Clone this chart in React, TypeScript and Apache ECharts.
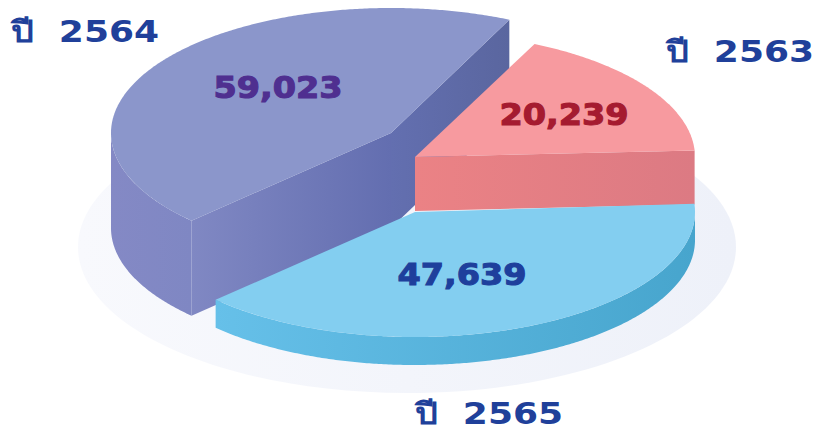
import React, { useEffect, useRef } from "react";
import * as echarts from "echarts";

const years = ["ปี  2564", "ปี  2563", "ปี  2565"];
const values = [59023, 20239, 47639];

const WIDTH = 813;
const HEIGHT = 431;
const RX = 280;
const RY = 125;
const FONT = '"DejaVu Sans", "Noto Sans", sans-serif';

// layout of each exploded wedge; angles in degrees on the ellipse, counter-clockwise from the right
const slices = [
  {
    cx: 391, cy: 133, depth: 95, startAngle: 65, sweepScale: 0.953,
    top: "#8b96cb", outer: ["#8489c5", "#7f87c3"], cutStart: ["#636fb0", "#5a669f"], cutEnd: ["#8088c3", "#636eb0"],
    valueAt: [278, 87], valueColor: "#4f2f90", yearAt: [11, 32], yearAnchor: "left",
  },
  {
    cx: 415, cy: 157, depth: 54, startAngle: 3, sweepScale: 1.075,
    top: "#f79a9f", outer: ["#e58084", "#e58084"], cutStart: ["#eb8285", "#dc7a83"], cutEnd: ["#eb8285", "#dc7a83"],
    valueAt: [564, 114], valueColor: "#a51b30", yearAt: [666, 52], yearAnchor: "left",
  },
  {
    cx: 415, cy: 212, depth: 28, startAngle: 224.6, sweepScale: 1.03,
    top: "#83cef0", outer: ["#66c0e9", "#47a5cd"], cutStart: ["#66c0e9", "#47a5cd"], cutEnd: ["#66c0e9", "#47a5cd"],
    valueAt: [462, 274], valueColor: "#1e3f9c", yearAt: [415, 414], yearAnchor: "left",
  },
];

const total = values.reduce((a, b) => a + b, 0);
const rad = (d: number) => (d * Math.PI) / 180;
const grad = (c: string[]) =>
  new echarts.graphic.LinearGradient(0, 0, 1, 0, [
    { offset: 0, color: c[0] },
    { offset: 1, color: c[1] },
  ]);

function pt(cx: number, cy: number, a: number, dy = 0): number[] {
  return [cx + RX * Math.cos(rad(a)), cy - RY * Math.sin(rad(a)) + dy];
}

function arc(cx: number, cy: number, a0: number, a1: number, dy = 0): number[][] {
  const pts: number[][] = [];
  const n = Math.max(2, Math.ceil(Math.abs(a1 - a0) * 2));
  for (let i = 0; i <= n; i++) pts.push(pt(cx, cy, a0 + ((a1 - a0) * i) / n, dy));
  return pts;
}

function renderItem(params: any, api: any) {
  const i = params.dataIndex;
  const s = slices[i];
  const value = api.value(0);
  const a0 = s.startAngle;
  const a1 = a0 + (value / total) * 360 * s.sweepScale;
  const children: any[] = [];
  const wall = (p: number[], q: number[], fill: string[]) =>
    children.push({
      type: "polygon",
      shape: { points: [p, q, [q[0], q[1] + s.depth], [p[0], p[1] + s.depth]] },
      style: { fill: grad(fill) },
    });
  const centre = [s.cx, s.cy];
  if (Math.sin(rad(a0 - 90)) < 0) wall(centre, pt(s.cx, s.cy, a0), s.cutStart);
  if (Math.sin(rad(a1 + 90)) < 0) wall(pt(s.cx, s.cy, a1), centre, s.cutEnd);
  // the part of the rim that faces the viewer
  const lo = Math.max(a0, 180);
  const hi = Math.min(a1, 360);
  if (hi > lo) {
    children.push({
      type: "polygon",
      shape: { points: [...arc(s.cx, s.cy, lo, hi), ...arc(s.cx, s.cy, hi, lo, s.depth)] },
      style: { fill: grad(s.outer) },
    });
  }
  children.push({
    type: "polygon",
    shape: { points: [centre, ...arc(s.cx, s.cy, a0, a1)] },
    style: { fill: s.top },
  });
  children.push({
    type: "text",
    x: s.valueAt[0],
    y: s.valueAt[1],
    scaleX: 1.08,
    style: {
      text: Number(value).toLocaleString("en-US"),
      font: `bold 31px ${FONT}`,
      fill: s.valueColor,
      stroke: s.valueColor,
      lineWidth: 1.1,
      align: "center",
      verticalAlign: "middle",
    },
  });
  children.push({
    type: "text",
    x: s.yearAt[0],
    y: s.yearAt[1],
    scaleX: 1.2,
    style: {
      text: years[i],
      font: `bold 30px ${FONT}`,
      fill: "#20409a",
      align: s.yearAnchor,
      verticalAlign: "middle",
    },
  });
  return { type: "group", children };
}

export default function App() {
  const ref = useRef<HTMLDivElement>(null);
  useEffect(() => {
    document.body.style.margin = "0";
    const chart = echarts.init(ref.current!, null, { renderer: "svg" });
    chart.setOption({
      animation: false,
      backgroundColor: "#ffffff",
      graphic: [
        {
          type: "ellipse",
          z: 0,
          shape: { cx: 407, cy: 247, rx: 329, ry: 146 },
          style: {
            fill: new echarts.graphic.LinearGradient(0, 0, 1, 0, [
              { offset: 0, color: "#f8f9fd" },
              { offset: 1, color: "#eef1f9" },
            ]),
          },
        },
      ],
      series: [
        {
          type: "custom",
          coordinateSystem: "none",
          z: 2,
          silent: true,
          renderItem,
          data: values.map((v) => [v]),
        },
      ],
    });
    return () => chart.dispose();
  }, []);
  return (
    <div
      ref={ref}
      style={{ position: "absolute", left: 0, top: 0, width: WIDTH, height: HEIGHT }}
    />
  );
}
